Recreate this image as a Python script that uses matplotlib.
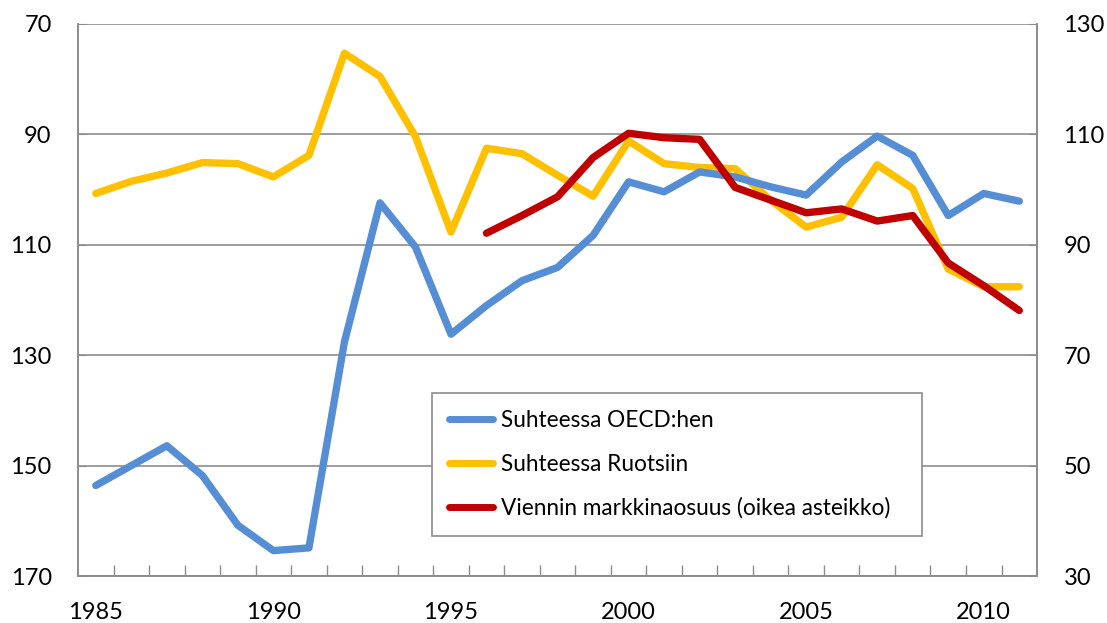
import numpy as np
import matplotlib.pyplot as plt

years = np.arange(1985, 2012)

# Suhteessa OECD:hen (vasen asteikko, käänteinen)
oecd = [153.6, 150.0, 146.4, 151.8, 160.8, 165.4, 164.9, 127.6, 102.4, 110.4,
        126.2, 121.0, 116.5, 114.1, 108.3, 98.6, 100.4, 96.8, 97.7, 99.5,
        101.0, 95.0, 90.3, 93.8, 104.7, 100.7, 102.1]

# Suhteessa Ruotsiin (vasen asteikko, käänteinen)
ruotsi = [100.7, 98.5, 97.0, 95.1, 95.3, 97.7, 93.8, 75.3, 79.5, 90.4,
          107.7, 92.5, 93.5, 97.4, 101.2, 91.2, 95.3, 96.0, 96.2, 101.9,
          106.8, 105.0, 95.5, 99.8, 114.4, 117.6, 117.6]

# Viennin markkinaosuus (oikea asteikko), 1996-2011
share_years = np.arange(1996, 2012)
share = [92.1, 95.3, 98.7, 105.8, 110.2, 109.4, 109.1, 100.4, 98.1, 95.8,
         96.5, 94.3, 95.3, 86.7, 82.6, 78.1]

left_ticks = [70, 90, 110, 130, 150, 170]
right_ticks = [30, 50, 70, 90, 110, 130]
label_years = [1985, 1990, 1995, 2000, 2005, 2010]

plt.rcParams['font.family'] = ['Lato', 'DejaVu Sans']
gray = '#8c8c8c'
blue = '#558ed5'
yellow = '#ffc000'
red = '#c00000'

fig = plt.figure(figsize=(11.07, 6.23), dpi=100)
ax = fig.add_axes([0.0705, 0.0754, 0.8663, 0.8861])
ax2 = ax.twinx()

style = dict(lw=5.3, solid_capstyle='round', solid_joinstyle='round')
l1, = ax.plot(years, oecd, color=blue, label='Suhteessa OECD:hen', zorder=3, **style)
l2, = ax.plot(years, ruotsi, color=yellow, label='Suhteessa Ruotsiin', zorder=2, **style)
l3, = ax2.plot(share_years, share, color=red,
               label='Viennin markkinaosuus (oikea asteikko)', **style)

ax.set_xlim(1984.5, 2011.5)
ax.set_ylim(170, 70)
ax.set_yticks(left_ticks)
ax2.set_ylim(30, 130)
ax2.set_yticks(right_ticks)

ax.set_xticks(label_years)
ax.set_xticks(np.arange(1985.5, 2011.5, 1), minor=True)
ax.tick_params(axis='x', which='major', length=0, labelsize=17, pad=19)
ax.tick_params(axis='x', which='minor', direction='in', length=8, color=gray, width=1)
ax.tick_params(axis='y', direction='in', length=6, color=gray, labelsize=17, pad=19)
ax2.tick_params(axis='y', direction='in', length=6, color=gray, labelsize=17, pad=19)

ax.grid(axis='y', color=gray, lw=1.2)
ax.set_axisbelow(True)
for a in (ax, ax2):
    for s in a.spines.values():
        s.set_color(gray)
        s.set_linewidth(1.2)
    a.spines['top'].set_visible(False)

leg = ax2.legend(handles=[l1, l2, l3], loc='lower left',
                 bbox_to_anchor=(0.369, 0.0725, 0.511, 0.252), mode='expand',
                 fontsize=16.3, frameon=True, fancybox=False, edgecolor=gray,
                 framealpha=1, handlelength=1.95, handletextpad=0.35,
                 labelspacing=1.0, borderpad=0.75, borderaxespad=0)
leg.get_frame().set_linewidth(1.2)
for h in leg.get_lines():
    h.set_linewidth(5)

fig.savefig('out.png', dpi=100)
